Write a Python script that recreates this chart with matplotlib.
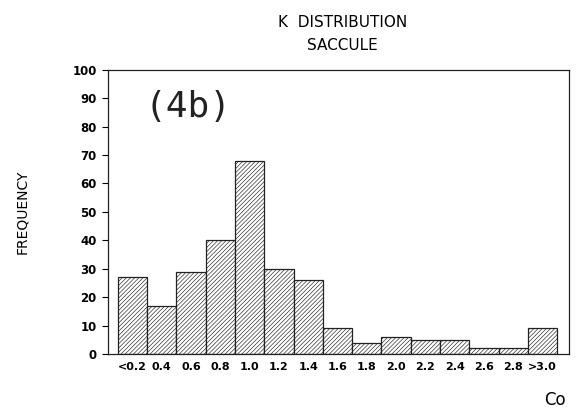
import numpy as np
import matplotlib.pyplot as plt

plt.rcParams['hatch.linewidth'] = 0.45
plt.rcParams['hatch.color'] = '#444444'

labels = ['<0.2', '0.4', '0.6', '0.8', '1.0', '1.2', '1.4', '1.6',
          '1.8', '2.0', '2.2', '2.4', '2.6', '2.8', '>3.0']
counts = [27, 17, 29, 40, 68, 30, 26, 9, 4, 6, 5, 5, 2, 2, 9]

fig = plt.figure(figsize=(5.83, 4.13), dpi=100)
ax = fig.add_axes([0.185, 0.143, 0.791, 0.688])

x = np.arange(len(counts))
ax.bar(x, counts, width=1.0, color='white', edgecolor='#222222',
       linewidth=0.9, hatch='////////')

ax.set_xlim(-0.84, 14.9)
ax.set_ylim(0, 100)
ax.set_yticks(range(0, 101, 10))
ax.set_yticklabels([str(v) for v in range(0, 101, 10)],
                   fontsize=8.5, fontweight='bold')
ax.set_xticks(x)
ax.set_xticklabels(labels, fontsize=8, fontweight='bold')
ax.tick_params(axis='x', length=0, pad=6)
ax.tick_params(axis='y', length=4, width=0.8, direction='out', pad=4)
for s in ax.spines.values():
    s.set_linewidth(0.9)
    s.set_color('#222222')

ax.text(0.08, 0.93, '(4b)', transform=ax.transAxes, fontsize=26,
        fontfamily='DejaVu Sans Mono', va='top', ha='left', color='#222222')

fig.text(0.587, 0.945, 'K  DISTRIBUTION', ha='center', va='center',
         fontsize=11)
fig.text(0.587, 0.89, 'SACCULE', ha='center', va='center', fontsize=11)
fig.text(0.038, 0.487, 'FREQUENCY', rotation=90, ha='center',
         va='center', fontsize=10)
fig.text(0.952, 0.032, 'Co', ha='center', va='center', fontsize=12)

fig.savefig('out.png', dpi=100)
